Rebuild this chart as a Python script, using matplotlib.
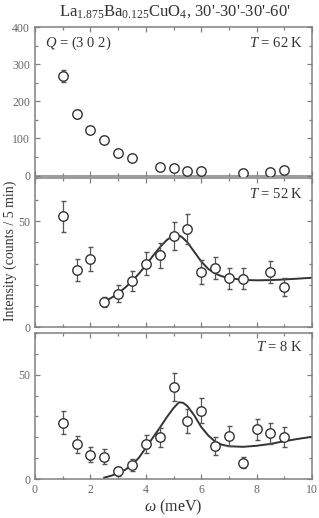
import matplotlib
matplotlib.use('Agg')
import matplotlib.pyplot as plt
from matplotlib.ticker import MultipleLocator

plt.rcParams['font.family'] = ['Liberation Serif', 'DejaVu Serif']
plt.rcParams['mathtext.fontset'] = 'custom'
plt.rcParams['mathtext.rm'] = 'Liberation Serif'
plt.rcParams['mathtext.it'] = 'Liberation Serif:italic'

# T = 62 K
w62 = [1.0, 1.5, 2.0, 2.5, 3.0, 3.5, 4.5, 5.0, 5.5, 6.0, 7.5, 8.5, 9.0]
i62 = [268, 166, 123, 96, 61, 47, 23, 21, 12, 13, 7, 10, 15]
e62 = [16, 10, 6, 5, 4, 4, 3, 3, 3, 3, 3, 3, 3]

# T = 52 K
w52 = [1.0, 1.5, 2.0, 2.5, 3.0, 3.5, 4.0, 4.5, 5.0, 5.5, 6.0, 6.5, 7.0, 7.5, 8.5, 9.0]
i52 = [52.2, 27.0, 32.1, 11.9, 15.9, 21.9, 30.0, 33.8, 43.0, 46.2, 26.0, 28.1, 23.0, 22.9, 26.0, 19.0]
e52 = [7.2, 5.3, 5.6, 2.5, 4.0, 4.8, 5.6, 6.0, 6.5, 6.9, 5.6, 5.2, 4.8, 4.9, 5.2, 4.3]
fit52_w = [2.4, 2.75, 3.0, 3.25, 3.5, 3.75, 4.0, 4.25, 4.5, 4.75, 5.0, 5.15, 5.3, 5.5,
           5.75, 6.0, 6.25, 6.5, 6.75, 7.0, 7.5, 8.0, 8.5, 9.0, 9.5, 10.0]
fit52_i = [11.4, 13.8, 16.0, 18.6, 21.7, 25.2, 29.2, 33.5, 37.5, 41.0, 43.2, 43.5, 42.5, 40.0,
           35.5, 31.0, 27.5, 25.3, 24.0, 23.2, 22.3, 22.1, 22.2, 22.5, 22.9, 23.3]

# T = 8 K
w8 = [1.0, 1.5, 2.0, 2.5, 3.0, 3.5, 4.0, 4.5, 5.0, 5.5, 6.0, 6.5, 7.0, 7.5, 8.0, 8.5, 9.0]
i8 = [27.0, 16.8, 11.7, 10.8, 3.8, 6.7, 16.8, 20.0, 44.1, 27.9, 32.7, 15.9, 20.6, 7.9, 23.8, 21.9, 20.0]
e8 = [5.4, 4.1, 3.5, 3.6, 2.2, 2.9, 4.4, 4.7, 6.7, 5.7, 6.0, 4.3, 4.8, 2.6, 5.2, 5.1, 4.8]
fit8_w = [2.5, 2.75, 3.0, 3.25, 3.5, 3.75, 4.0, 4.25, 4.5, 4.75, 5.0, 5.2, 5.35, 5.5,
          5.75, 6.0, 6.25, 6.5, 6.75, 7.0, 7.5, 8.0, 8.5, 9.0, 9.5, 10.0]
fit8_i = [0.8, 1.7, 2.9, 4.5, 6.8, 10.3, 15.0, 19.8, 24.5, 29.5, 34.0, 36.8, 36.5, 35.0,
          30.5, 25.0, 21.0, 18.0, 16.5, 15.8, 15.5, 16.0, 16.9, 18.2, 19.3, 20.3]

gray = '#808080'
W, H = 319, 518
fig = plt.figure(figsize=(W / 100, H / 100), dpi=100)

def box(top, bottom):
    return [35 / W, 1 - bottom / H, 277 / W, (bottom - top) / H]

ax1 = fig.add_axes(box(27, 175.5))
ax2 = fig.add_axes(box(178.5, 327.3))
ax3 = fig.add_axes(box(332.7, 479.3))

sets = [(ax1, w62, i62, e62, None, None), (ax2, w52, i52, e52, fit52_w, fit52_i),
        (ax3, w8, i8, e8, fit8_w, fit8_i)]
for ax, w, y, e, fw, fy in sets:
    if fw is not None:
        ax.plot(fw, fy, color='#333333', lw=1.4, zorder=2)
    ax.errorbar(w, y, yerr=e, fmt='o', mfc='white', mec='#333333', mew=1.0, ms=6.8,
                ecolor='#555555', elinewidth=0.9, capsize=1.8, capthick=0.9, zorder=3)
    ax.set_xlim(0, 10)
    ax.xaxis.set_major_locator(MultipleLocator(2))
    ax.xaxis.set_minor_locator(MultipleLocator(1))
    ax.tick_params(which='both', direction='in', top=True, right=True, color=gray,
                   labelsize=8.5, labelcolor='#666666', width=0.9)
    ax.tick_params(which='major', length=3.5)
    ax.tick_params(which='minor', length=2)
    for s in ax.spines.values():
        s.set_color(gray)
        s.set_linewidth(1.1)

ax1.set_ylim(0, 400)
ax1.yaxis.set_major_locator(MultipleLocator(100))
ax1.yaxis.set_minor_locator(MultipleLocator(50))
for ax in (ax2, ax3):
    ax.set_ylim(0, 70)
    ax.yaxis.set_major_locator(MultipleLocator(50))
    ax.yaxis.set_minor_locator(MultipleLocator(10))
for ax in (ax1, ax2):
    ax.tick_params(labelbottom=False)

tc = '#333333'
ax1.text(0.036, 0.89, '$Q$ = (3 0 2)', transform=ax1.transAxes, fontsize=10.5, color=tc, va='center')
ax1.text(0.968, 0.89, '$T$ = 62 K', transform=ax1.transAxes, fontsize=10.5, color=tc, va='center', ha='right')
ax2.text(0.968, 0.895, '$T$ = 52 K', transform=ax2.transAxes, fontsize=10.5, color=tc, va='center', ha='right')
ax3.text(0.968, 0.905, '$T$ = 8 K', transform=ax3.transAxes, fontsize=10.5, color=tc, va='center', ha='right')

fig.text(175 / W, 1 - 12 / H, "La$_{1.875}$Ba$_{0.125}$CuO$_4$, 30'-30'-30'-60'",
         fontsize=12, color=tc, ha='center', va='center')
fig.text(10 / W, 1 - 251 / H, 'Intensity (counts / 5 min)', rotation=90, fontsize=10,
         color=tc, ha='center', va='center')
fig.text(173.5 / W, 1 - 507 / H, r'$\omega$ (meV)', fontsize=11.5, color=tc, ha='center', va='center')

fig.savefig('out.png', dpi=100)
